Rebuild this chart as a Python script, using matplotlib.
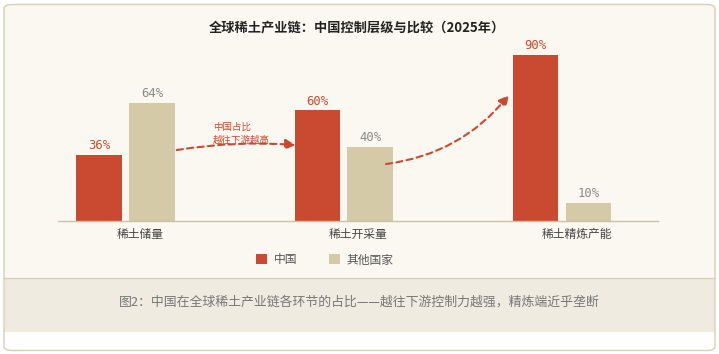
import matplotlib.pyplot as plt
from matplotlib.patches import FancyBboxPatch, Rectangle

plt.rcParams['font.family'] = ['Noto Sans CJK SC', 'DejaVu Sans']

# data
categories = ["稀土储量", "稀土开采量", "稀土精炼产能"]
china_share = [36, 60, 90]
other_share = [64, 40, 10]
series_names = ["中国", "其他国家"]

title = "全球稀土产业链：中国控制层级与比较（2025年）"
caption = "图2：中国在全球稀土产业链各环节的占比——越往下游控制力越强，精炼端近乎垄断"
note = "中国占比\n越往下游越高"

RED = "#c94a30"
BEIGE = "#d4caa8"
W, H = 719, 354

fig = plt.figure(figsize=(W / 100, H / 100), dpi=100)
fig.patch.set_facecolor("white")

def fx(px):
    return px / W

def fy(py):
    return 1 - py / H

# card background
card = FancyBboxPatch((fx(4), fy(350.5)), fx(711), 346 / H,
                      boxstyle="round,pad=0,rounding_size=0.012",
                      transform=fig.transFigure, facecolor="#fefefc",
                      edgecolor="none", zorder=-10)
fig.patches.append(card)
top_part = FancyBboxPatch((fx(4), fy(295)), fx(711), 290 / H,
                          boxstyle="round,pad=0,rounding_size=0.012",
                          transform=fig.transFigure, facecolor="#faf8f1",
                          edgecolor="none", zorder=-9)
fig.patches.append(top_part)
band = Rectangle((fx(4), fy(331.7)), fx(711), 53.4 / H,
                 transform=fig.transFigure, facecolor="#f0ebe0",
                 edgecolor="none", zorder=-8)
fig.patches.append(band)
fig.add_artist(plt.Line2D([fx(4), fx(715)], [fy(278.3), fy(278.3)],
                          transform=fig.transFigure, color="#d9d1b8", lw=1, zorder=-7))
border = FancyBboxPatch((fx(4), fy(350.5)), fx(711), 346 / H,
                        boxstyle="round,pad=0,rounding_size=0.012",
                        transform=fig.transFigure, facecolor="none",
                        edgecolor="#d8d0b6", lw=1, zorder=-6)
fig.patches.append(border)

ax = fig.add_axes([fx(58.3), fy(221), fx(600), 181 / H])
ax.set_facecolor("none")

x = list(range(len(categories)))
bw = 0.2076
b1 = ax.bar([i - 0.188 for i in x], china_share, width=bw, color=RED)
b2 = ax.bar([i + 0.054 for i in x], other_share, width=bw, color=BEIGE)

for rect, v in zip(b1, china_share):
    ax.annotate(f"{v}%", (rect.get_x() + rect.get_width() / 2, v),
                xytext=(0, 2), textcoords="offset points", ha="center", va="bottom",
                fontsize=8.8, color=RED, family=["DejaVu Sans Mono"])
for rect, v in zip(b2, other_share):
    ax.annotate(f"{v}%", (rect.get_x() + rect.get_width() / 2, v),
                xytext=(0, 2), textcoords="offset points", ha="center", va="bottom",
                fontsize=8.8, color="#8a8a86", family=["DejaVu Sans Mono"])

ax.set_xlim(-0.375, 2.375)
ax.set_ylim(0, 98.2)
ax.set_xticks(x)
ax.set_xticklabels(categories, fontsize=8.5, color="#444444")
ax.tick_params(axis="x", length=0, pad=5)
ax.set_yticks([])
for s in ["top", "right", "left"]:
    ax.spines[s].set_visible(False)
ax.spines["bottom"].set_color("#cbc2a5")
ax.spines["bottom"].set_linewidth(1)

# trend arrows
ax.annotate("", xy=(0.713, 41.2), xytext=(0.168, 38.5),
            arrowprops=dict(arrowstyle="-|>,head_length=0.6,head_width=0.3", color=RED,
                            lw=1.5, linestyle=(0, (3, 2)),
                            connectionstyle="arc3,rad=-0.06", shrinkA=0, shrinkB=0))
ax.annotate("", xy=(1.69, 68.3), xytext=(1.127, 30.9),
            arrowprops=dict(arrowstyle="-|>,head_length=0.6,head_width=0.3", color=RED,
                            lw=1.5, linestyle=(0, (3, 2)),
                            connectionstyle="arc3,rad=0.2", shrinkA=0, shrinkB=0))
ax.text(0.334, 47.3, note, ha="left", va="center", fontsize=6.8,
        color=RED, linespacing=1.45)

fig.text(fx(356.5), fy(27), title, ha="center", va="center",
         fontsize=9.5, fontweight="bold", color="#222222")
fig.text(fx(359), fy(302.5), caption, ha="center", va="center",
         fontsize=9.3, color="#777777")

leg = fig.legend(handles=[b1, b2], labels=series_names, loc="center",
                 bbox_to_anchor=(fx(325), fy(260)), ncol=2, frameon=False,
                 fontsize=8.5, handlelength=0.93, handleheight=0.93,
                 handletextpad=0.55, columnspacing=2.7)
for t in leg.get_texts():
    t.set_color("#555555")

fig.savefig("out.png", dpi=100)
